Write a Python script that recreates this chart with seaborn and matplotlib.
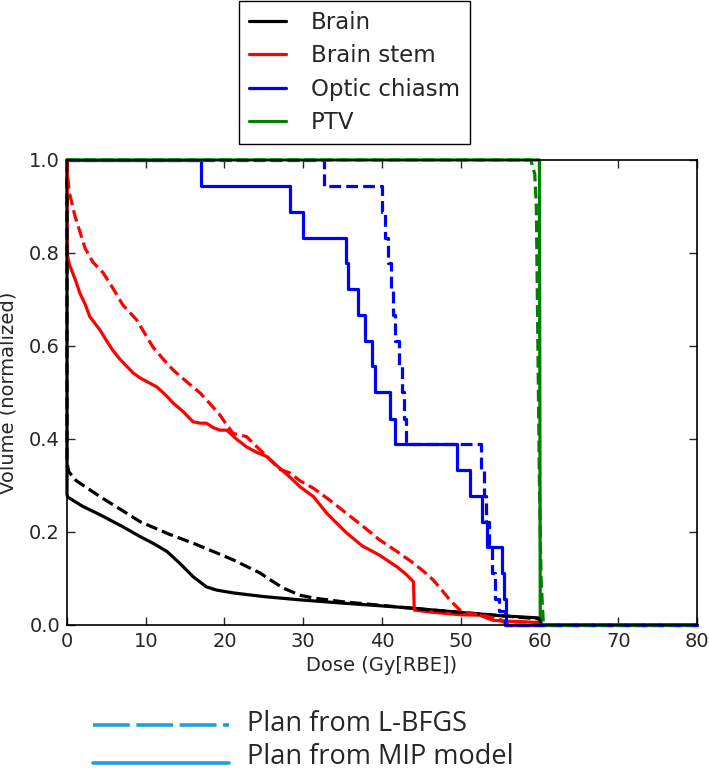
"""DVH comparison: MIP model plan vs L-BFGS plan."""

import matplotlib
matplotlib.use("Agg")
import matplotlib.pyplot as plt
from matplotlib.lines import Line2D
import pandas as pd
import seaborn as sns

# ---- data -----------------------------------------------------------------
# Brain
brain_mip_dose = [0, 0, 0.1, 2, 4.2, 7, 9.3, 11, 12.7, 14.3, 16, 17.7, 19, 21.1,
                  25, 29.6, 35, 40, 44, 50, 55, 60, 60.2, 80]
brain_mip_vol = [1.0, 0.28, 0.275, 0.255, 0.237, 0.212, 0.19, 0.175, 0.158, 0.133,
                 0.104, 0.082, 0.075, 0.069, 0.061, 0.054, 0.047, 0.041, 0.036,
                 0.027, 0.020, 0.015, 0.0, 0.0]
brain_lbfgs_dose = [0, 0, 0.2, 1.2, 4.2, 9.3, 13, 16, 19, 21.1, 24.5, 26, 27.5,
                    29.6, 31.3, 35, 40, 45, 50, 55, 60, 60.3, 80]
brain_lbfgs_vol = [1.0, 0.35, 0.33, 0.31, 0.276, 0.222, 0.195, 0.176, 0.155, 0.14,
                   0.112, 0.095, 0.079, 0.064, 0.058, 0.05, 0.042, 0.034, 0.027,
                   0.02, 0.013, 0.0, 0.0]

# Brain stem
stem_mip_dose = [0, 0, 0.3, 1, 1.65, 2.3, 2.9, 4.2, 5, 5.8, 6.7, 7.6, 8.4, 9.3,
                 10.3, 11.4, 12.5, 13.5, 14.8, 16, 16.9, 17.7, 18.5, 19.4, 20.3,
                 21.5, 22.8, 24, 25.4, 26.5, 27.5, 28.5, 29.6, 31.3, 33, 35.5,
                 37.5, 39.7, 41.9, 43, 44, 44.1, 46, 48, 50, 52.4, 54.1, 56, 58,
                 60, 60.3, 80]
stem_mip_vol = [1.0, 0.80, 0.775, 0.745, 0.713, 0.69, 0.663, 0.634, 0.612, 0.591,
                0.572, 0.556, 0.542, 0.531, 0.522, 0.512, 0.495, 0.477, 0.458,
                0.437, 0.434, 0.434, 0.425, 0.419, 0.419, 0.40, 0.383, 0.372,
                0.362, 0.345, 0.33, 0.315, 0.297, 0.276, 0.24, 0.198, 0.17, 0.15,
                0.125, 0.11, 0.093, 0.032, 0.028, 0.025, 0.022, 0.021, 0.01,
                0.008, 0.007, 0.005, 0.0, 0.0]
stem_lbfgs_dose = [0, 0, 0.3, 1, 2.3, 3.3, 4.6, 5.8, 7.1, 8.85, 10.9, 12.2, 13.5,
                   15.2, 16.9, 18.2, 19.4, 20.3, 21.1, 22.8, 24, 25.4, 27, 28.3,
                   29.6, 31.3, 33.4, 35.5, 37.6, 39.7, 41.9, 44, 45.3, 46.5, 47.6,
                   48.6, 49.9, 51, 53, 55, 56, 80]
stem_lbfgs_vol = [1.0, 0.98, 0.93, 0.88, 0.81, 0.78, 0.757, 0.725, 0.688, 0.656,
                  0.598, 0.572, 0.548, 0.523, 0.499, 0.475, 0.452, 0.43, 0.412,
                  0.405, 0.385, 0.362, 0.335, 0.327, 0.31, 0.294, 0.268, 0.24,
                  0.212, 0.183, 0.158, 0.133, 0.115, 0.097, 0.075, 0.054, 0.032,
                  0.025, 0.02, 0.012, 0.0, 0.0]

# Optic chiasm (step-post)
chiasm_mip_dose = [0, 17.0, 28.3, 30.0, 35.4, 35.7, 37.0, 37.8, 38.7, 39.1, 41.0,
                   41.6, 49.5, 51.2, 52.7, 53.3, 55.2, 55.5, 55.8, 80]
chiasm_mip_vol = [1.0, 0.944, 0.889, 0.833, 0.778, 0.722, 0.667, 0.611, 0.556,
                  0.5, 0.444, 0.389, 0.333, 0.278, 0.222, 0.167, 0.111, 0.056,
                  0.0, 0.0]
chiasm_lbfgs_dose = [0, 32.7, 40.0, 40.4, 40.8, 41.1, 41.4, 41.7, 42.1, 42.5,
                     42.8, 43.0, 52.6, 52.9, 53.2, 53.6, 54.0, 54.4, 54.9, 55.6, 80]
chiasm_lbfgs_vol = [1.0, 0.944, 0.889, 0.833, 0.778, 0.722, 0.667, 0.611, 0.556,
                    0.5, 0.444, 0.389, 0.333, 0.278, 0.222, 0.167, 0.111, 0.056,
                    0.03, 0.0, 0.0]

# PTV
ptv_mip_dose = [0, 60.0, 60.1, 80]
ptv_mip_vol = [1.0, 1.0, 0.0, 0.0]
ptv_lbfgs_dose = [0, 58.9, 59.4, 59.6, 59.8, 60.0, 60.2, 60.5, 80]
ptv_lbfgs_vol = [1.0, 1.0, 0.97, 0.9, 0.6, 0.3, 0.1, 0.0, 0.0]

structures = ["Brain", "Brain stem", "Optic chiasm", "PTV"]
colors = ["black", "red", "blue", "green"]
plan_labels = ["Plan from L-BFGS", "Plan from MIP model"]

mip_curves = [(brain_mip_dose, brain_mip_vol), (stem_mip_dose, stem_mip_vol),
              (chiasm_mip_dose, chiasm_mip_vol), (ptv_mip_dose, ptv_mip_vol)]
lbfgs_curves = [(brain_lbfgs_dose, brain_lbfgs_vol),
                (stem_lbfgs_dose, stem_lbfgs_vol),
                (chiasm_lbfgs_dose, chiasm_lbfgs_vol),
                (ptv_lbfgs_dose, ptv_lbfgs_vol)]
step_structures = {"Optic chiasm"}

# ---- plot -----------------------------------------------------------------
sns.set_style("ticks", {"xtick.direction": "in", "ytick.direction": "in",
                        "axes.edgecolor": "black"})
plt.rcParams["font.family"] = ["DejaVu Sans"]

fig = plt.figure(figsize=(7.09, 7.71), dpi=100)
ax = fig.add_axes([0.0945, 0.1894, 0.8885, 0.6031])

LW = 2.3
for name, color, (x, y) in zip(structures, colors, mip_curves):
    df = pd.DataFrame({"dose": x, "vol": y})
    sns.lineplot(data=df, x="dose", y="vol", ax=ax, color=color, lw=LW,
                 estimator=None, sort=False, label=name, clip_on=False,
                 drawstyle="steps-post" if name in step_structures else "default")
for name, color, (x, y) in zip(structures, colors, lbfgs_curves):
    df = pd.DataFrame({"dose": x, "vol": y})
    sns.lineplot(data=df, x="dose", y="vol", ax=ax, color=color, lw=LW,
                 linestyle="--", estimator=None, sort=False, legend=False,
                 clip_on=False,
                 drawstyle="steps-post" if name in step_structures else "default")

ax.set_xlim(0, 80)
ax.set_ylim(0, 1.0)
ax.set_xticks(range(0, 81, 10))
ax.set_yticks([0.0, 0.2, 0.4, 0.6, 0.8, 1.0])
ax.set_yticklabels(["0.0", "0.2", "0.4", "0.6", "0.8", "1.0"])
ax.tick_params(axis="both", which="both", direction="in", top=True, right=True,
               length=6, width=1, labelsize=14, pad=5)
for sp in ax.spines.values():
    sp.set_linewidth(1.2)
    sp.set_color("black")
ax.set_xlabel("Dose (Gy[RBE])", fontsize=14)
ax.set_ylabel("Volume (normalized)", fontsize=14)
ax.yaxis.set_label_coords(-0.078, 0.5)

# structure legend above the axes
handles, labels = ax.get_legend_handles_labels()
ax.get_legend().remove()
fig.legend(handles, labels, loc="upper center", bbox_to_anchor=(0.5, 0.999),
           fontsize=16.5, frameon=True, fancybox=False, edgecolor="black",
           framealpha=1, handlelength=1.6, handletextpad=1.1, borderpad=0.45,
           labelspacing=0.45, borderaxespad=0)

# plan legend below the axes
plan_color = "#1f9fdc"
fig.add_artist(Line2D([93 / 709, 229 / 709], [1 - 725 / 771, 1 - 725 / 771],
                      transform=fig.transFigure, color=plan_color, lw=2.6,
                      dashes=(10.2, 1.8)))
fig.add_artist(Line2D([93 / 709, 229 / 709], [1 - 763 / 771, 1 - 763 / 771],
                      transform=fig.transFigure, color=plan_color, lw=2.6))
fig.text(247 / 709, 1 - 731 / 771, plan_labels[0], fontsize=19.5,
         family="Open Sans", va="baseline", ha="left")
fig.text(247 / 709, 1 - 764 / 771, plan_labels[1], fontsize=19.5,
         family="Open Sans", va="baseline", ha="left")

fig.savefig("out.png", dpi=100)
